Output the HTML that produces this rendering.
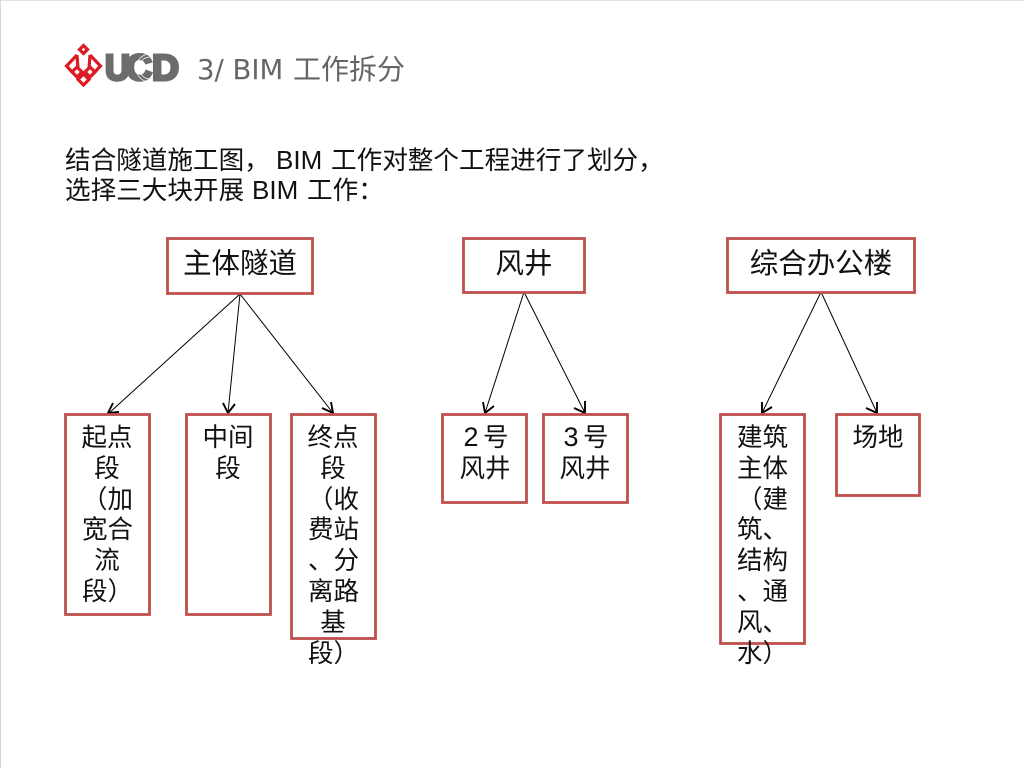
<!DOCTYPE html>
<html lang="zh">
<head>
<meta charset="utf-8">
<style>
html,body{margin:0;padding:0;background:#fff;width:1024px;height:768px;overflow:hidden}
svg{display:block}
text{font-family:"Noto Sans CJK SC","WenQuanYi Zen Hei","DejaVu Sans",sans-serif;font-weight:400}
.l{font-family:"DejaVu Sans","Liberation Sans",sans-serif;font-weight:400}
.s{font-family:"Liberation Sans",sans-serif;font-weight:400}
.u{font-family:"Liberation Sans",sans-serif;font-weight:700;font-size:36px;fill:#6c6c6c;stroke:#6c6c6c;stroke-width:3}
.b{fill:#fff;stroke:#c0504d;stroke-width:2.8}
.c{stroke:#000;stroke-width:1;fill:none}
.a{stroke:#000;stroke-width:1.9;fill:none}
.t{font-size:25.5px;fill:#111}
.h{font-size:28.5px;fill:#111}
.p{font-size:25.6px;fill:#111}
.m{text-anchor:middle}
</style>
</head>
<body>
<svg width="1024" height="768" viewBox="0 0 1024 768" xmlns="http://www.w3.org/2000/svg">
<rect x="0" y="0" width="1024" height="1" fill="#e2e2e2"/>
<rect x="0" y="0" width="1" height="768" fill="#d8d8d8"/>

<!-- logo mark -->
<g fill="none" stroke="#dc1c24" stroke-width="3.2">
<polygon points="83.500,45.500 87.500,49.500 83.500,53.500 79.500,49.500"/>
<polyline points="77,55 66.500,66 76,76"/>
<polyline points="77,55 78,69"/>
<polyline points="90,55 100.500,66 91,76"/>
<polyline points="90,55 89,69"/>
<polygon points="77,67 82,72 77,77 72,72"/>
<polygon points="90,67 95,72 90,77 85,72"/>
<polygon points="83.500,74 89,79.500 83.500,85 78,79.500"/>
</g>

<!-- logo word -->
<text class="u" x="105" y="80" textLength="25" lengthAdjust="spacingAndGlyphs">U</text>
<text class="u" x="126" y="80" textLength="26" lengthAdjust="spacingAndGlyphs">C</text>
<text class="u" x="152" y="80" textLength="27" lengthAdjust="spacingAndGlyphs">D</text>
<g fill="none" stroke="#fff" stroke-width="0.7">
<path d="M150 54 A14 14 0 0 0 136 68 A14 14 0 0 0 150 82"/>
<path d="M150 57 A11 11 0 0 0 139 68 A11 11 0 0 0 150 79"/>
</g>

<!-- title -->
<text x="197" y="79" font-size="27.5" fill="#666" class="l">3/ BIM</text>
<text x="293" y="79" font-size="28" fill="#666">工作拆分</text>

<!-- paragraph -->
<text class="p" x="65" y="169">结合隧道施工图，</text>
<text class="s" x="276" y="169" font-size="26" fill="#111">BIM</text>
<text class="p" x="331" y="169">工作对整个工程进行了划分，</text>
<text class="p" x="65" y="199">选择三大块开展</text>
<text class="s" x="252" y="199" font-size="26" fill="#111">BIM</text>
<text class="p" x="307" y="199">工作：</text>

<!-- connectors -->
<g class="c">
<line x1="240" y1="294" x2="108" y2="414"/>
<line x1="240" y1="294" x2="228" y2="413"/>
<line x1="240" y1="294" x2="333" y2="413"/>
<line x1="524" y1="292" x2="485" y2="413"/>
<line x1="524" y1="292" x2="585" y2="413"/>
<line x1="821" y1="292" x2="762" y2="413"/>
<line x1="821" y1="292" x2="877" y2="413"/>
</g>
<g class="a">
<polyline points="113,403 108,413 119,412"/>
<polyline points="223,403 228,413 235,404"/>
<polyline points="322,408 333,413 331,402"/>
<polyline points="483,402 485,413 494,406"/>
<polyline points="574,408 585,413 585,401"/>
<polyline points="762,402 762,413 772,407"/>
<polyline points="866,408 877,413 877,402"/>
</g>

<!-- boxes -->
<rect class="b" x="167.500" y="238.500" width="145" height="55"/>
<rect class="b" x="463.500" y="238.500" width="121" height="54"/>
<rect class="b" x="727.500" y="238.500" width="187" height="54"/>
<rect class="b" x="65.500" y="414.500" width="84" height="200"/>
<rect class="b" x="186.500" y="414.500" width="84" height="200"/>
<rect class="b" x="291.500" y="414.500" width="84" height="224"/>
<rect class="b" x="442.500" y="414.500" width="84" height="88"/>
<rect class="b" x="543.500" y="414.500" width="84" height="88"/>
<rect class="b" x="720.500" y="414.500" width="84" height="229"/>
<rect class="b" x="836.500" y="414.500" width="83" height="81"/>

<!-- headers -->
<text class="h m" x="240" y="273">主体隧道</text>
<text class="h m" x="524" y="273">风井</text>
<text class="h m" x="821" y="273">综合办公楼</text>

<!-- box text -->
<g class="t">
<text class="m" x="107" y="446">起点</text>
<text class="m" x="107" y="477">段</text>
<text x="82" y="508">（加</text>
<text x="82" y="538">宽合</text>
<text class="m" x="107" y="569">流</text>
<text x="82" y="600">段）</text>

<text class="m" x="228" y="446">中间</text>
<text class="m" x="228" y="477">段</text>

<text class="m" x="333" y="446">终点</text>
<text class="m" x="333" y="477">段</text>
<text x="308" y="508">（收</text>
<text x="308" y="538">费站</text>
<text x="308" y="569">、分</text>
<text x="308" y="600">离路</text>
<text class="m" x="333" y="631">基</text>
<text x="308" y="662">段）</text>

<text class="m s" x="471" y="446" style="font-size:27px">2</text>
<text x="483" y="446">号</text>
<text class="m" x="485" y="477">风井</text>
<text class="m s" x="571" y="446" style="font-size:27px">3</text>
<text x="583" y="446">号</text>
<text class="m" x="585" y="477">风井</text>

<text x="737" y="446">建筑</text>
<text x="737" y="477">主体</text>
<text x="737" y="508">（建</text>
<text x="737" y="538">筑、</text>
<text x="737" y="569">结构</text>
<text x="737" y="600">、通</text>
<text x="737" y="631">风、</text>
<text x="737" y="662">水）</text>

<text class="m" x="878" y="446">场地</text>
</g>
</svg>
</body>
</html>
